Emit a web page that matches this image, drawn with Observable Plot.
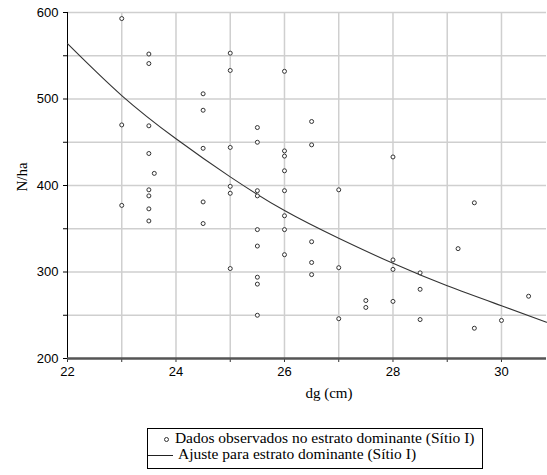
<!DOCTYPE html>
<html>
<head>
<meta charset="utf-8">
<script src="https://cdn.jsdelivr.net/npm/d3@7"></script>
<script src="https://cdn.jsdelivr.net/npm/@observablehq/plot@0.6"></script>
<style>
  body { margin: 0; background: #fff; }
  #wrap { position: relative; width: 547px; height: 475px; }
  #legend {
    position: absolute; left: 147px; top: 428px; width: 336px; height: 41px;
    border: 1px solid #000; box-sizing: border-box;
    font-family: "Liberation Serif", "Times New Roman", serif; font-size: 15.5px; color: #000;
  }
  .row { position: absolute; white-space: nowrap; line-height: 16px; }
  .dot { display: inline-block; width: 3px; height: 3px; border: 1px solid #333; border-radius: 50%; background: #fff; vertical-align: middle; margin-right: 2px; }
  .ln { display: inline-block; width: 25px; height: 0; border-top: 1px solid #222; vertical-align: middle; margin-right: 2px; }
</style>
</head>
<body>
<div id="wrap">
  <div id="chart"></div>
  <div id="legend">
    <div class="row" style="top:1px; left:16px;"><span class="dot"></span> Dados observados no estrato dominante (Sítio I)</div>
    <div class="row" style="top:17px; left:0px;"><span class="ln"></span> Ajuste para estrato dominante (Sítio I)</div>
  </div>
</div>
<script>
// observed data: dg (cm) and N/ha
const obsDg = [
  23, 23, 23,
  23.5, 23.5, 23.5, 23.5, 23.5, 23.5, 23.5, 23.5,
  23.6,
  24.5, 24.5, 24.5, 24.5, 24.5,
  25, 25, 25, 25, 25, 25,
  25.5, 25.5, 25.5, 25.5, 25.5, 25.5, 25.5, 25.5, 25.5,
  26, 26, 26, 26, 26, 26, 26, 26,
  26.5, 26.5, 26.5, 26.5, 26.5,
  27, 27, 27,
  27.5, 27.5,
  28, 28, 28, 28,
  28.5, 28.5, 28.5,
  29.2,
  29.5, 29.5,
  30,
  30.5
];
const obsN = [
  593, 470, 377,
  552, 541, 469, 437, 395, 388, 373, 359,
  414,
  506, 487, 443, 381, 356,
  553, 533, 444, 399, 391, 304,
  467, 450, 394, 388, 349, 330, 294, 286, 250,
  532, 440, 434, 417, 394, 365, 349, 320,
  474, 447, 335, 311, 297,
  395, 305, 246,
  267, 259,
  433, 314, 303, 266,
  299, 280, 245,
  327,
  380, 235,
  244,
  272
];
// fitted curve
const fitDg = [22, 23, 24, 25, 26, 27, 28, 29, 30, 30.83];
const fitN  = [564, 504, 454, 410, 371, 339, 310, 284, 261, 242];

const xGridTicks = [22, 23, 24, 25, 26, 27, 28, 29, 30];
const xTickLabels = [22, 24, 26, 28, 30];
const yGridTicks = [200, 250, 300, 350, 400, 450, 500, 550, 600];
const yTickLabels = [200, 300, 400, 500, 600];

const obs = obsDg.map((d, i) => ({dg: d, n: obsN[i]}));
const fit = fitDg.map((d, i) => ({dg: d, n: fitN[i]}));

const sans = "'Liberation Sans', Arial, sans-serif";
const serif = "'Liberation Serif', 'Times New Roman', serif";

const chart = Plot.plot({
  width: 547,
  height: 410,
  marginLeft: 67,
  marginRight: 1,
  marginTop: 12,
  marginBottom: 52,
  style: {fontFamily: sans, fontSize: "13px", background: "#fff", color: "#000"},
  x: {domain: [22, 30.83], axis: null},
  y: {domain: [200, 600], axis: null},
  marks: [
    Plot.gridX(xGridTicks.slice(1), {stroke: "#cfcfcf", strokeOpacity: 1, strokeWidth: 1.5}),
    Plot.gridY(yGridTicks.slice(1), {stroke: "#cfcfcf", strokeOpacity: 1, strokeWidth: 1.5}),
    Plot.axisX(xGridTicks, {
      anchor: "bottom", tickSize: 4, tickPadding: 4, stroke: "#333",
      tickFormat: d => xTickLabels.includes(d) ? String(d) : "",
      fontSize: 13, fontFamily: sans, label: null
    }),
    Plot.axisY(yGridTicks, {
      anchor: "left", tickSize: 4, tickPadding: 5, stroke: "#000",
      tickFormat: d => yTickLabels.includes(d) ? String(d) : "",
      fontSize: 13, fontFamily: sans, label: null
    }),
    Plot.ruleX([22], {stroke: "#000", strokeWidth: 1}),
    Plot.ruleY([200], {stroke: "#555", strokeWidth: 2.5}),
    Plot.line(fit, {x: "dg", y: "n", curve: "natural", stroke: "#333", strokeWidth: 1.1}),
    Plot.dot(obs, {x: "dg", y: "n", r: 2, stroke: "#333", strokeWidth: 1, fill: "#fff"}),
    Plot.text(["N/ha"], {frameAnchor: "left", dx: -45, dy: 6, rotate: -90, fontFamily: serif, fontSize: 15}),
    Plot.text(["dg (cm)"], {frameAnchor: "bottom", dx: 22, dy: 39, fontFamily: serif, fontSize: 15})
  ]
});
document.getElementById("chart").appendChild(chart);
</script>
</body>
</html>
